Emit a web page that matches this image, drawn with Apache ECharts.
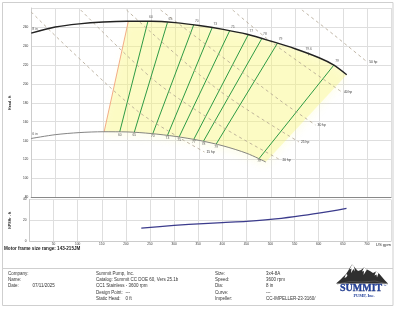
<!DOCTYPE html>
<html><head><meta charset="utf-8">
<script src="https://cdn.jsdelivr.net/npm/echarts@6/dist/echarts.min.js"></script>
<style>html,body{margin:0;padding:0;background:#fff}#c{width:400px;height:309px}</style>
</head><body><div id="c"></div>
<script>
// ---- axes ----
const flowMin = 0, flowMax = 750, flowStep = 50;
const headMin = 80, headMax = 280, headStep = 20;
const npshMin = 0, npshMax = 40, npshStep = 20;

// ---- head curves ----
const head8Q = [0, 50, 100, 150, 200, 250, 300, 350, 400, 450, 500, 550, 600, 630, 657.7];
const head8H = [253.5, 260, 263.3, 265.2, 266, 266, 264.6, 261.6, 257.5, 252.3, 245, 237, 227.5, 220, 209.6];
const head6Q = [0, 50, 100, 150, 200, 250, 300, 350, 400, 450, 489];
const head6H = [142.3, 146.3, 148.5, 149.4, 149.2, 147.5, 144.5, 140.3, 134.5, 126.5, 117.5];

// ---- efficiency lines ----
const effLabels = ['60', '65', '70', '73', '75', '77', '78', '79', '79'];
const effLowQ  = [184.5, 214.9, 253.5, 284, 308.4, 338.8, 359.2, 385.5, 474.9];
const effLowH  = [149.3, 148.9, 147.4, 145.5, 144, 141.3, 139.5, 136.3, 121];
const effHighQ = [243.3, 284, 338.8, 377.4, 414, 452.6, 481, 513.5, 631.3];
const effHighH = [266, 264.7, 262.3, 259.5, 256.3, 252, 248, 243, 220];
const bepQ = 578.5, bepH = 231.5, bepLabel = '79.6';

// ---- minimum flow boundary ----
const minFlowQ = [152, 202.5];
const minFlowH = [149.4, 266];

// ---- horsepower lines ----
const hpNames = ['15 hp', '20 hp', '25 hp', '30 hp', '40 hp', '50 hp'];
const hp15Q = [0, 76.8, 219, 306.3, 361.2],   hp15H = [275.8, 237.8, 172.3, 143.9, 128];
const hp20Q = [103.2, 258, 401.8, 519.7],     hp20H = [277.9, 203, 153.4, 119.6];
const hp25Q = [198.7, 387.6, 558.2],          hp25H = [277.9, 194.5, 138.6];
const hp30Q = [269.7, 517.6, 592.7],          hp30H = [277.9, 182.9, 156.5];
const hp40Q = [420, 503.4, 647.6],            hp40H = [277.9, 243, 191.3];
const hp50Q = [564.3, 631.3, 700.4],          hp50H = [277.9, 251.5, 223];

// ---- NPSHr ----
const npshQ = [232, 300, 361, 400, 450, 500, 550, 600, 657.7];
const npshH = [12.4, 15, 16.8, 17.8, 19, 20.8, 23.5, 26.8, 31.5];

// ---- title block ----
const leftKeys = ['Company:', 'Name:', 'Date:'];
const leftVals = ['', '', '07/11/2025'];
const midLines = ['Summit Pump, Inc.', 'Catalog: Summit CC DOE 60, Vers 25.1b', 'CC1 Stainless - 3600 rpm', 'Design Point:', 'Static Head:'];
const midVals = ['', '', '', '---', '0 ft'];
const rightKeys = ['Size:', 'Speed:', 'Dia:', 'Curve:', 'Impeller:'];
const rightVals = ['3x4-8A', '3600 rpm', '8 in', '---', 'CC-IMPELLER-23-3160/'];
const motorText = 'Motor frame size range: 143-215JM';

const zip = (a, b) => a.map((v, i) => [v, b[i]]);
const FONT = 'Liberation Sans, Arial, sans-serif';

// region between curves
const regionPts = [[minFlowQ[1], minFlowH[1]]];
head8Q.forEach((q, i) => { if (q > minFlowQ[1]) regionPts.push([q, head8H[i]]); });
for (let i = head6Q.length - 1; i >= 0; i--) if (head6Q[i] > minFlowQ[0]) regionPts.push([head6Q[i], head6H[i]]);
regionPts.push([minFlowQ[0], minFlowH[0]]);

const series = [];
series.push({
  type: 'custom', xAxisIndex: 0, yAxisIndex: 0, silent: true, z: 1,
  data: [[400, 200]],
  renderItem: (p, api) => ({
    type: 'polygon',
    shape: { points: regionPts.map(pt => api.coord(pt)) },
    style: { fill: 'rgba(250,246,120,0.36)', shadowBlur: 7, shadowColor: 'rgba(250,246,130,0.35)', shadowOffsetY: 5 }
  })
});
series.push({ type: 'line', xAxisIndex: 0, yAxisIndex: 0, data: zip(minFlowQ, minFlowH), symbol: 'none',
  lineStyle: { color: '#f2a37c', width: 0.9 }, z: 3, silent: true });
effLabels.forEach((l, i) => {
  series.push({ type: 'line', xAxisIndex: 0, yAxisIndex: 0, symbol: 'none', silent: true, z: 3,
    data: [[effLowQ[i], effLowH[i]], [effHighQ[i], effHighH[i]]],
    lineStyle: { color: '#2e9b45', width: 1 } });
});
const hpQ = [hp15Q, hp20Q, hp25Q, hp30Q, hp40Q, hp50Q];
const hpH = [hp15H, hp20H, hp25H, hp30H, hp40H, hp50H];
hpNames.forEach((n, i) => {
  series.push({ type: 'line', xAxisIndex: 0, yAxisIndex: 0, symbol: 'none', silent: true, z: 4, smooth: 0.3,
    data: zip(hpQ[i], hpH[i]),
    lineStyle: { color: '#b0a38f', width: 0.8, type: [3, 3] },
    endLabel: { show: true, formatter: n, fontSize: 3.3, color: '#333', distance: 2, fontFamily: FONT } });
});
series.push({ type: 'line', xAxisIndex: 0, yAxisIndex: 0, symbol: 'none', smooth: 0.3, silent: true, z: 5,
  data: zip(head6Q, head6H), lineStyle: { color: '#777', width: 0.9 } });
series.push({ type: 'line', xAxisIndex: 0, yAxisIndex: 0, symbol: 'none', smooth: 0.3, silent: true, z: 5,
  data: zip(head8Q, head8H), lineStyle: { color: '#222', width: 1.4 } });
// curve names
series.push({ type: 'scatter', xAxisIndex: 0, yAxisIndex: 0, symbolSize: 0, silent: true, z: 6,
  data: [[head8Q[0], head8H[0], '8 in'], [head6Q[0], head6H[0], '6 in']],
  label: { show: true, position: [1, -6], formatter: p => p.value[2], fontSize: 3.6, color: '#333', fontFamily: FONT } });
// efficiency labels
const effLabelData = [];
effLabels.forEach((l, i) => {
  effLabelData.push({ value: [effHighQ[i], effHighH[i]], label: { formatter: l, position: 'top', distance: 2.3, offset: [3, 0] } });
  effLabelData.push({ value: [effLowQ[i], effLowH[i]], label: { formatter: l, position: 'bottom', distance: 1.3 } });
});
series.push({ type: 'scatter', xAxisIndex: 0, yAxisIndex: 0, symbolSize: 0, silent: true, z: 6, data: effLabelData,
  label: { show: true, fontSize: 3.3, color: '#333', fontFamily: FONT } });
series.push({ type: 'scatter', xAxisIndex: 0, yAxisIndex: 0, symbol: 'rect', symbolSize: [0.6, 3], silent: true, z: 6,
  itemStyle: { color: '#333' }, data: [[bepQ, bepH]],
  label: { show: true, formatter: bepLabel, position: 'top', distance: 1.5, fontSize: 3.3, color: '#333', fontFamily: FONT } });
series.push({ type: 'line', xAxisIndex: 1, yAxisIndex: 1, symbol: 'none', smooth: 0.3, silent: true,
  data: zip(npshQ, npshH), lineStyle: { color: '#3b3b8c', width: 1.2 } });

const axLabel = { fontSize: 3.2, color: '#333', fontFamily: FONT };
const option = {
  animation: false,
  backgroundColor: '#fff',
  grid: [
    { left: 22, right: 9, top: 8, height: 189.5 },
    { left: 22, right: 9, top: 199.5, height: 41.5 }
  ],
  xAxis: [
    { type: 'value', gridIndex: 0, min: flowMin, max: flowMax, interval: flowStep,
      axisLabel: { show: false }, axisTick: { show: false },
      axisLine: { show: true, onZero: false, lineStyle: { color: '#888', width: 1 } },
      splitLine: { show: true, lineStyle: { color: '#dedede', width: 1 } } },
    { type: 'value', gridIndex: 1, min: flowMin, max: flowMax, interval: flowStep,
      axisLabel: Object.assign({}, axLabel, { margin: 1.5, showMinLabel: false, alignMaxLabel: 'right',
        formatter: v => v === flowMax ? '{u|US gpm}' : String(v),
        rich: { u: { fontSize: 4.2, color: '#333', fontFamily: FONT } } }),
      axisTick: { show: false },
      axisLine: { show: true, onZero: false, lineStyle: { color: '#ccc', width: 1 } },
      splitLine: { show: true, lineStyle: { color: '#dedede', width: 1 } } }
  ],
  yAxis: [
    { type: 'value', gridIndex: 0, min: headMin, max: headMax, interval: headStep,
      axisLabel: Object.assign({}, axLabel, { margin: 3, showMaxLabel: false }),
      axisTick: { show: false }, axisLine: { show: true, lineStyle: { color: '#ccc' } },
      splitLine: { show: true, lineStyle: { color: '#dedede', width: 1 } },
      name: 'Head - ft', nameLocation: 'middle', nameGap: 11,
      nameTextStyle: { fontSize: 3.6, fontWeight: 'bold', color: '#222', fontFamily: FONT } },
    { type: 'value', gridIndex: 1, min: npshMin, max: npshMax, interval: npshStep,
      axisLabel: Object.assign({}, axLabel, { margin: 3 }),
      axisTick: { show: false }, axisLine: { show: true, lineStyle: { color: '#ccc' } },
      splitLine: { show: true, lineStyle: { color: '#dedede', width: 1 } },
      name: 'NPSHr - ft', nameLocation: 'middle', nameGap: 11,
      nameTextStyle: { fontSize: 3.6, fontWeight: 'bold', color: '#222', fontFamily: FONT } }
  ],
  series: series,
  graphic: []
};

// frame & title block
const g = option.graphic;
g.push({ type: 'rect', shape: { x: 2.5, y: 2.5, width: 390.5, height: 303 }, style: { fill: 'none', stroke: '#cfcfcf', lineWidth: 1 }, z: 100, silent: true });
g.push({ type: 'line', shape: { x1: 3, y1: 268.5, x2: 393, y2: 268.5 }, style: { stroke: '#cfcfcf', lineWidth: 1 }, z: 100, silent: true });
g.push({ type: 'text', x: 4, y: 249, style: { text: motorText, fontSize: 4.6, fontWeight: 'bold', fill: '#222', fontFamily: FONT, verticalAlign: 'middle' }, z: 100 });
const rowY = [273.3, 279.7, 286, 292.3, 298.6];
const txt = (s, x, y) => g.push({ type: 'text', x: x, y: y, z: 100, silent: true,
  style: { text: s, fontSize: 4.5, fill: '#333', fontFamily: FONT, verticalAlign: 'middle', align: 'left' } });
leftKeys.forEach((s, i) => { txt(s, 8, rowY[i]); if (leftVals[i]) txt(leftVals[i], 32.5, rowY[i]); });
midLines.forEach((s, i) => { txt(s, 96, rowY[i]); if (midVals[i]) txt(midVals[i], 125.5, rowY[i]); });
rightKeys.forEach((s, i) => { txt(s, 215, rowY[i]); txt(rightVals[i], 266, rowY[i]); });

// logo
const poly = (pts, fill, z) => g.push({ type: 'polygon', z: z, silent: true, shape: { points: pts }, style: { fill: fill } });
poly([[336,283.5],[340,280],[343,277],[346,274],[348,271],[350,267.5],[352,264.5],[354,266.5],[356,269],[358,271],[361,270],[364,267.5],[367,269.5],[370,271],[373,273],[376,271.5],[379,273.5],[382,277],[385,280.5],[388,283.5]], '#2f2f2f', 100);
poly([[352,264.5],[349.5,269.5],[351.5,268.5],[351,273],[353.5,269],[355,271.5],[354,266.5]], '#fff', 101);
poly([[364,267.5],[362,271.5],[364,271],[363.5,275],[366,271],[367,269.5]], '#fff', 101);
poly([[376,271.5],[374.5,275.5],[376.5,274.5],[377,277.5],[378.5,273]], '#fff', 101);
poly([[346,274],[344.5,278],[346.5,277],[347.5,275]], '#fff', 101);
g.push({ type: 'polyline', z: 101, silent: true, shape: { points: [[337,284],[350,281.5],[362,282],[375,281],[388,284]] }, style: { stroke: '#666', lineWidth: 0.6, fill: 'none' } });
g.push({ type: 'text', x: 340, y: 288.5, z: 101, silent: true, style: { text: 'SUMMIT', fontSize: 10, fontWeight: 'bold', fill: '#22409a', stroke: '#1a2d6e', lineWidth: 0.3, fontFamily: 'Liberation Serif, DejaVu Serif, serif', verticalAlign: 'middle' } });
g.push({ type: 'text', x: 383.5, y: 286, z: 101, silent: true, style: { text: '™', fontSize: 3.2, fill: '#22409a', fontFamily: FONT, verticalAlign: 'middle' } });
g.push({ type: 'text', x: 364, y: 295.8, z: 101, silent: true, style: { text: 'PUMP, Inc.', fontSize: 4.3, fontWeight: 'bold', fill: '#22409a', fontFamily: 'Liberation Serif, DejaVu Serif, serif', verticalAlign: 'middle', align: 'center' } });

const chart = echarts.init(document.getElementById('c'), null, { renderer: 'canvas' });
chart.setOption(option);
</script>
</body></html>
